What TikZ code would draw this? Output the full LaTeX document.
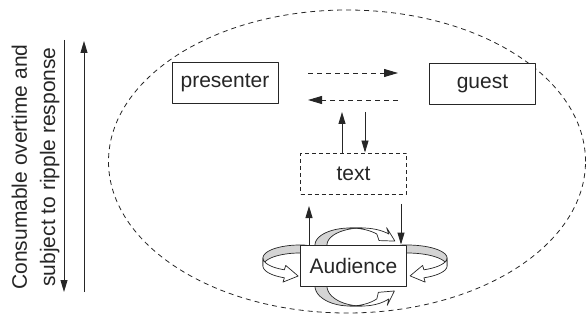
\documentclass[tikz,border=0pt]{standalone}
\usepackage{fontspec}
\setmainfont{Liberation Sans}
\usetikzlibrary{arrows.meta,calc}
\definecolor{ink}{gray}{0.15}
\definecolor{ribgray}{gray}{0.83}
\newcommand\bigf{\fontsize{21}{25}\selectfont}
% cx cy a b gx gy t0 t1 t2
\newcommand\ribbonarrow[9]{%
  \pgfmathsetmacro\rbs{(#9>#8)?1:-1}%
  \pgfmathsetmacro\rbtx{-\rbs*(#3)*sin(#9)}%
  \pgfmathsetmacro\rbty{\rbs*(#4)*cos(#9)}%
  \pgfmathsetmacro\rbtl{veclen(\rbtx,\rbty)}%
  \pgfmathsetmacro\rbux{\rbtx/\rbtl}%
  \pgfmathsetmacro\rbuy{\rbty/\rbtl}%
  \pgfmathsetmacro\rbgd{(#5)*\rbux+(#6)*\rbuy}%
  \pgfmathsetmacro\rbpx{(#5)-\rbgd*\rbux}%
  \pgfmathsetmacro\rbpy{(#6)-\rbgd*\rbuy}%
  \pgfmathsetmacro\rbpl{veclen(\rbpx,\rbpy)}%
  \pgfmathsetmacro\rbnx{\rbpx/\rbpl}%
  \pgfmathsetmacro\rbny{\rbpy/\rbpl}%
  \pgfmathsetmacro\rbhw{\rbpl/2+4.5}%
  \pgfmathsetmacro\rbex{(#1)+(#3)*cos(#9)}%
  \pgfmathsetmacro\rbey{(#2)+(#4)*sin(#9)}%
  \pgfmathsetmacro\rbmx{\rbex+(#5)/2}%
  \pgfmathsetmacro\rbmy{\rbey+(#6)/2}%
  \pgfmathsetmacro\rbbx{\rbmx+\rbhw*\rbnx}%
  \pgfmathsetmacro\rbby{\rbmy+\rbhw*\rbny}%
  \pgfmathsetmacro\rbcx{\rbmx-\rbhw*\rbnx}%
  \pgfmathsetmacro\rbcy{\rbmy-\rbhw*\rbny}%
  \pgfmathsetmacro\rbkx{\rbmx+14*\rbux}%
  \pgfmathsetmacro\rbky{\rbmy+14*\rbuy}%
  \draw[ribbonline, fill=ribgray]
    plot[domain=#7:#8, samples=40] ({(#1)+(#3)*cos(\x)},{(#2)+(#4)*sin(\x)})
    -- plot[domain=#8:#7, samples=40] ({(#1)+(#5)+(#3)*cos(\x)},{(#2)+(#6)+(#4)*sin(\x)})
    -- cycle;
  \draw[ribbonline, fill=white]
    plot[domain=#8:#9, samples=40] ({(#1)+(#5)+(#3)*cos(\x)},{(#2)+(#6)+(#4)*sin(\x)})
    -- (\rbbx,\rbby) -- (\rbkx,\rbky) -- (\rbcx,\rbcy) -- (\rbex,\rbey)
    -- plot[domain=#9:#8, samples=40] ({(#1)+(#3)*cos(\x)},{(#2)+(#4)*sin(\x)})
    -- cycle;
}
\begin{document}
\begin{tikzpicture}[x=1pt,y=1pt, line join=round,
  box/.style={draw=ink, line width=0.9pt, fill=white, minimum width=106pt, minimum height=41pt, inner sep=0pt, text=ink, font=\bigf},
  dbox/.style={box, dash pattern=on 4pt off 3pt},
  arr/.style={draw=ink, line width=0.9pt, -{Triangle[length=12pt,width=7pt]}},
  darr/.style={draw=ink, line width=0.9pt, dash pattern=on 5pt off 4pt, -{Triangle[length=14pt,width=8pt]}},
  ribbonline/.style={draw=ink, line width=0.7pt},
  side/.style={text=ink, font=\bigf, rotate=90, anchor=base, inner sep=0pt}]
\useasboundingbox (0,0) rectangle (586,-323);

% side text and arrows
\node[side] (line1) at (27,-167) {Consumable overtime and};
\node[side] (line2) at (55,-167) {subject to ripple response};
\coordinate (l1a) at (64,-40);
\coordinate (l1b) at (64,-292);
\coordinate (l2a) at (84,-292);
\coordinate (l2b) at (84,-41);
\draw[arr] (l1a) -- (l1b);
\draw[arr] (l2a) -- (l2b);

% dashed ellipse
\draw[draw=ink, line width=0.8pt, dash pattern=on 5pt off 4pt] (347,-161.5) ellipse[x radius=238.5, y radius=151.5];

% ribbons round the audience
\ribbonarrow{300}{-266}{37}{13}{0}{8}{80}{180}{245}
\ribbonarrow{407}{-266}{40}{13}{0}{8}{100}{0}{-65}
\ribbonarrow{350}{-245}{35}{17}{12}{0}{185}{90}{40}
\ribbonarrow{350}{-286}{35}{20}{12}{0}{175}{270}{320}

% nodes
\node[box] (presenter) at (225,-83) {presenter};
\node[box] (guest) at (482.5,-83.5) {guest};
\node[dbox] (txt) at (353.5,-173.5) {text};
\node[box] (aud) at (353.5,-265.5) {Audience};

% connectors
\coordinate (pg1) at (308,-73);
\coordinate (pg2) at (398,-73);
\coordinate (gp1) at (398,-100);
\coordinate (gp2) at (308,-100);
\draw[darr] (pg1) -- (pg2);
\draw[darr] (gp1) -- (gp2);
\coordinate (tu) at (342,-112);
\coordinate (td) at (365,-112);
\draw[arr] (txt.north -| tu) -- (tu);
\draw[arr] (td) -- (td |- txt.north);
\coordinate (au) at (309,-206);
\coordinate (ad) at (401,-204);
\draw[arr] (aud.north -| au) -- (au);
\draw[arr] (ad) -- (ad |- aud.north);
\end{tikzpicture}
\end{document}
